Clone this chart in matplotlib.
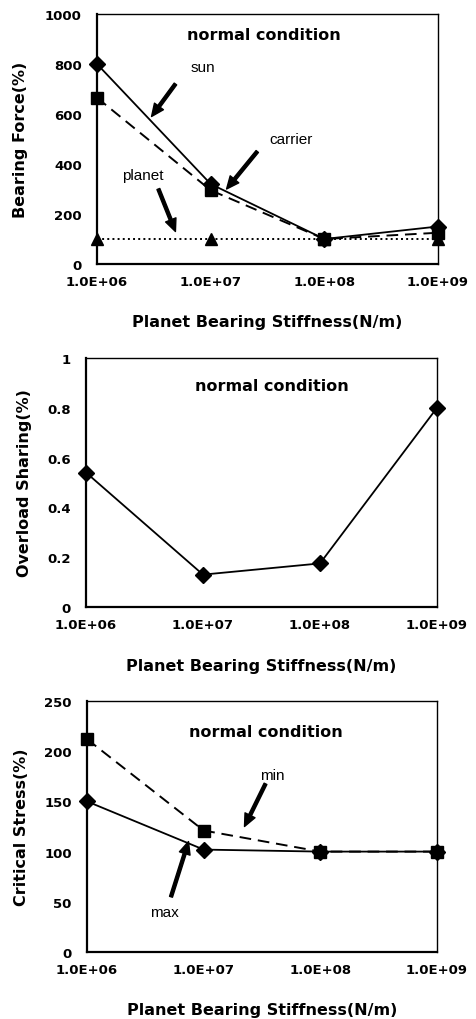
import numpy as np
import matplotlib

matplotlib.use("Agg")
import matplotlib.pyplot as plt

plt.rcParams["font.family"] = ["Liberation Sans", "DejaVu Sans"]

# stiffness values (N/m) shared by all panels
stiffness = [1e6, 1e7, 1e8, 1e9]
tick_labels = ["1.0E+06", "1.0E+07", "1.0E+08", "1.0E+09"]

# panel 1: bearing force (%)
force_sun = [800, 320, 100, 150]
force_carrier = [665, 295, 100, 125]
force_planet = [100, 100, 100, 100]

# panel 2: overload sharing
overload = [0.54, 0.13, 0.175, 0.80]

# panel 3: critical stress (%)
stress_max = [150, 102, 100, 100]
stress_min = [212, 121, 100, 100]

xlabel = "Planet Bearing Stiffness(N/m)"
W, H = 477, 1020
BOLD = dict(family="DejaVu Sans", fontweight="bold")

fig = plt.figure(figsize=(W / 100, H / 100), dpi=100)


def make_axes(left, top, right, bottom):
    return fig.add_axes([left / W, 1 - bottom / H, (right - left) / W, (bottom - top) / H])


def style(ax, ylim, yticks, ylabels, ylab, ypad_label):
    ax.set_xscale("log")
    ax.set_xlim(1e6, 1e9)
    ax.set_ylim(*ylim)
    ax.set_xticks(stiffness)
    ax.set_xticklabels(tick_labels)
    ax.minorticks_off()
    ax.set_yticks(yticks)
    ax.set_yticklabels(ylabels)
    ax.tick_params(axis="x", length=0, pad=8)
    ax.tick_params(axis="y", length=0, pad=11)
    for lbl in ax.get_xticklabels() + ax.get_yticklabels():
        lbl.set_fontfamily("DejaVu Sans")
        lbl.set_fontweight("bold")
        lbl.set_fontsize(9.5)
    for side in ("left", "bottom"):
        ax.spines[side].set_linewidth(1.6)
    for side in ("top", "right"):
        ax.spines[side].set_linewidth(1.0)
    ax.set_xlabel(xlabel, fontsize=11.5, labelpad=19, **BOLD)
    ax.set_ylabel(ylab, fontsize=11.5, labelpad=ypad_label, **BOLD)


def arrow(ax, text, xytext, xy, txt_pos):
    ax.annotate("", xy=xy, xytext=xytext, xycoords="axes fraction",
                textcoords="axes fraction",
                arrowprops=dict(facecolor="black", edgecolor="black",
                                width=2.2, headwidth=8, headlength=9, shrink=0))
    ax.text(*txt_pos, text, transform=ax.transAxes, fontsize=11,
            ha="center", va="center")


mk = dict(color="black", markersize=8.5, clip_on=False, zorder=3)

# ---- panel 1
ax1 = make_axes(97, 15, 438, 265)
ax1.plot(stiffness, force_sun, "-", marker="D", lw=1.3, **mk)
ax1.plot(stiffness, force_carrier, "--", marker="s", lw=1.4, dashes=(6, 3.5), **mk)
ax1.plot(stiffness, force_planet, ":", marker="^", lw=1.4, **mk)
style(ax1, (0, 1000), [0, 200, 400, 600, 800, 1000],
      ["0", "200", "400", "600", "800", "1000"], "Bearing Force(%)", 12)
ax1.text(0.49, 0.92, "normal condition", transform=ax1.transAxes,
         fontsize=11.5, ha="center", va="center", **BOLD)
arrow(ax1, "sun", (0.23, 0.72), (0.16, 0.59), (0.31, 0.79))
arrow(ax1, "carrier", (0.47, 0.45), (0.38, 0.30), (0.57, 0.50))
arrow(ax1, "planet", (0.18, 0.30), (0.23, 0.13), (0.135, 0.355))

# ---- panel 2
ax2 = make_axes(86, 359, 437, 608)
ax2.plot(stiffness, overload, "-", marker="D", lw=1.3, **mk)
style(ax2, (0, 1), [0, 0.2, 0.4, 0.6, 0.8, 1.0],
      ["0", "0.2", "0.4", "0.6", "0.8", "1"], "Overload Sharing(%)", 11)
ax2.text(0.53, 0.89, "normal condition", transform=ax2.transAxes,
         fontsize=11.5, ha="center", va="center", **BOLD)

# ---- panel 3
ax3 = make_axes(87, 702, 437, 953)
ax3.plot(stiffness, stress_max, "-", marker="D", lw=1.3, **mk)
ax3.plot(stiffness, stress_min, "--", marker="s", lw=1.4, dashes=(6, 3.5), **mk)
style(ax3, (0, 250), [0, 50, 100, 150, 200, 250],
      ["0", "50", "100", "150", "200", "250"], "Critical Stress(%)", 11)
ax3.text(0.51, 0.88, "normal condition", transform=ax3.transAxes,
         fontsize=11.5, ha="center", va="center", **BOLD)
arrow(ax3, "min", (0.51, 0.67), (0.45, 0.50), (0.53, 0.705))
arrow(ax3, "max", (0.24, 0.22), (0.29, 0.44), (0.22, 0.16))

fig.savefig("out.png", dpi=100)
